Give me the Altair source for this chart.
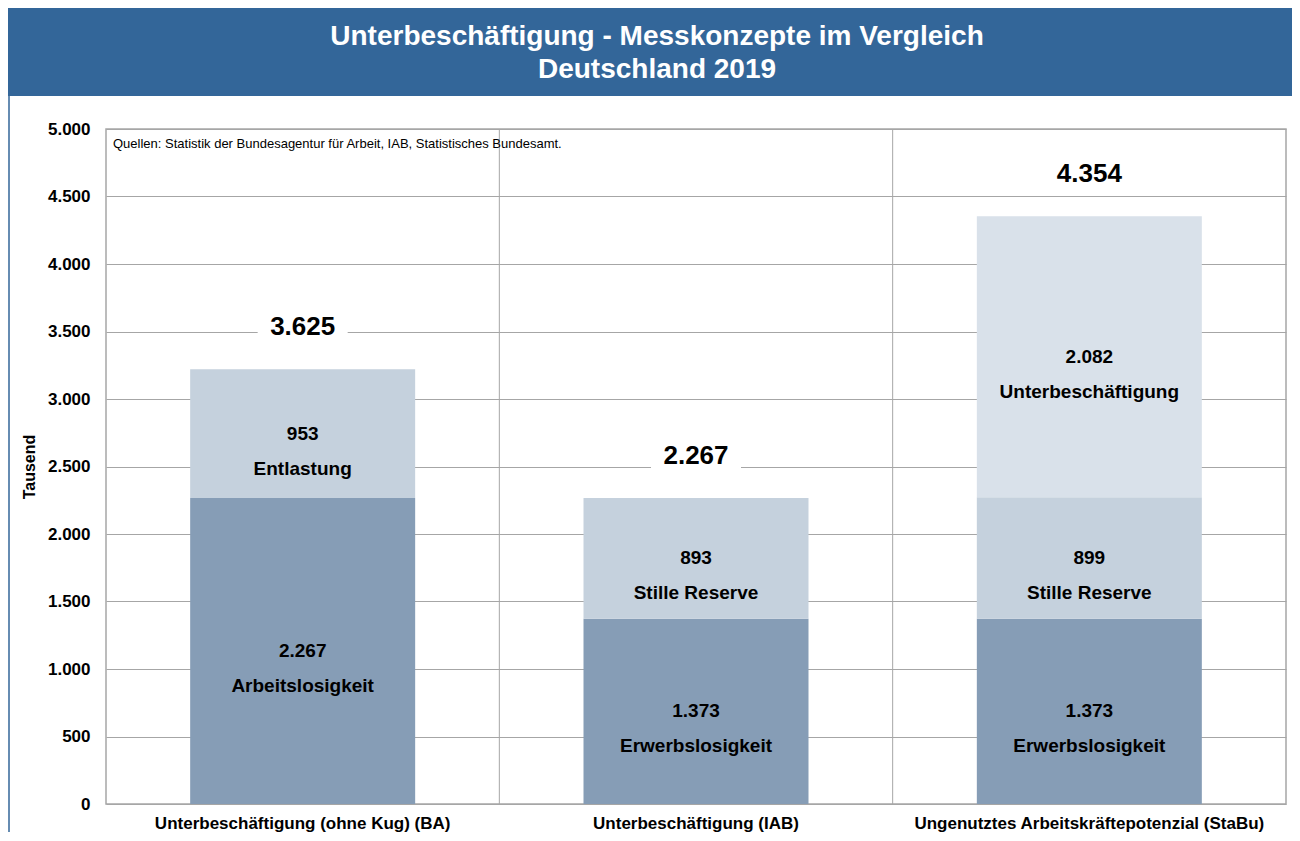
import altair as alt
import pandas as pd

# ---------------- data ----------------
categories = [
    "Unterbeschäftigung (ohne Kug) (BA)",
    "Unterbeschäftigung (IAB)",
    "Ungenutztes Arbeitskräftepotenzial (StaBu)",
]
seg_category = [0, 0, 1, 1, 2, 2, 2]
seg_name = ["Arbeitslosigkeit", "Entlastung", "Erwerbslosigkeit", "Stille Reserve",
            "Erwerbslosigkeit", "Stille Reserve", "Unterbeschäftigung"]
seg_value = [2267, 953, 1373, 893, 1373, 899, 2082]
seg_level = [1, 2, 1, 2, 1, 2, 3]
totals = [3625, 2267, 4354]
y_ticks = [0, 500, 1000, 1500, 2000, 2500, 3000, 3500, 4000, 4500, 5000]

title_lines = ["Unterbeschäftigung - Messkonzepte im Vergleich", "Deutschland 2019"]
source_note = "Quellen:  Statistik der Bundesagentur für Arbeit, IAB, Statistisches Bundesamt."


def de(v):
    return f"{v:,}".replace(",", ".")


seg = pd.DataFrame({
    "cat": [categories[i] for i in seg_category],
    "name": seg_name,
    "value": seg_value,
    "level": seg_level,
    "vtext": [de(v) for v in seg_value],
})
tops = seg.groupby("cat", sort=False)["value"].sum()
tot = pd.DataFrame({
    "cat": categories,
    "top": [tops[c] for c in categories],
    "ttext": [de(t) for t in totals],
})
one = pd.DataFrame({"a": [0]})

FONT = "Liberation Sans"
W, H = 1180, 675
BLUE = "#336699"
GRID = "#a6a6a6"

xsc = alt.Scale(domain=categories, paddingInner=0, paddingOuter=0)
xax = alt.Axis(title=None, labelFont=FONT, labelFontSize=17, labelFontWeight="bold",
               labelColor="black", labelPadding=11, ticks=False, domain=False,
               labelAngle=0, grid=False, labelLimit=0)
ysc = alt.Scale(domain=[0, 5000], nice=False)
yax = alt.Axis(values=y_ticks, labelExpr="replace(format(datum.value, ',d'), ',', '.')",
               labelFont=FONT, labelFontSize=17, labelFontWeight="bold", labelColor="black",
               labelPadding=16, ticks=False, domain=False, grid=True, gridColor=GRID,
               gridWidth=1, title="Tausend", titleFont=FONT, titleFontSize=16,
               titleFontWeight="bold", titleColor="black", titlePadding=10)


def X(field="cat", **kw):
    return alt.X(f"{field}:N", scale=xsc, axis=xax, sort=categories, **kw)


def Y(field):
    return alt.Y(f"{field}:Q", scale=ysc, axis=yax, title="Tausend")


banner = alt.Chart(one).mark_rect(color=BLUE).encode(
    x=alt.value(-98), x2=alt.value(1186), y=alt.value(-121), y2=alt.value(-33))
frame = alt.Chart(one).mark_rule(color=BLUE, strokeWidth=1.5).encode(
    x=alt.value(-97), y=alt.value(-33), y2=alt.value(703))


def title_line(i, y):
    return alt.Chart(pd.DataFrame({"t": [title_lines[i]]})).mark_text(
        font=FONT, fontSize=28, fontWeight="bold", color="white",
        baseline="middle", align="center").encode(
        x=alt.value(551), y=alt.value(y), text="t:N")


vrules = alt.Chart(pd.DataFrame({"cat": categories[1:]})).mark_rule(
    color=GRID, strokeWidth=1).encode(x=X(bandPosition=0))

bars = alt.Chart(seg).mark_bar(size=225).encode(
    x=X(),
    y=Y("value"),
    color=alt.Color("level:O", scale=alt.Scale(domain=[1, 2, 3],
                    range=["#869db6", "#c5d1dd", "#d9e1ea"]), legend=None),
    order=alt.Order("level:Q", sort="ascending"),
)

stacked = alt.Chart(seg).transform_stack(
    stack="value", groupby=["cat"], as_=["y0", "y1"],
    sort=[alt.SortField("level", order="ascending")]
).transform_calculate(mid="(datum.y0 + datum.y1) / 2")

val_text = stacked.mark_text(font=FONT, fontSize=19, fontWeight="bold", color="black",
                             baseline="middle").encode(x=X(), y=Y("mid"), text="vtext:N")
name_text = stacked.mark_text(font=FONT, fontSize=19, fontWeight="bold", color="black",
                              baseline="middle", dy=35).encode(x=X(), y=Y("mid"), text="name:N")

tot_box = alt.Chart(tot).mark_point(
    shape="M-1,-0.42H1V0.48H-1Z", filled=True, color="white", opacity=1,
    strokeWidth=0, size=8100, yOffset=-42).encode(x=X(), y=Y("top"))
tot_text = alt.Chart(tot).mark_text(font=FONT, fontSize=26, fontWeight="bold", color="black",
                                    baseline="middle", dy=-42).encode(
    x=X(), y=Y("top"), text="ttext:N")

note = alt.Chart(pd.DataFrame({"t": [source_note]})).mark_text(
    font=FONT, fontSize=13, color="black", align="left", baseline="middle").encode(
    x=alt.value(7), y=alt.value(15), text="t:N")

chart = alt.layer(banner, frame, vrules, bars, tot_box, tot_text, val_text, name_text,
                  note, title_line(0, -92), title_line(1, -59)).properties(
    width=W, height=H, padding=0, background="white"
).configure_view(stroke=GRID, strokeWidth=1.5)

chart.save("out.html", embed_options={"renderer": "svg", "actions": False})
